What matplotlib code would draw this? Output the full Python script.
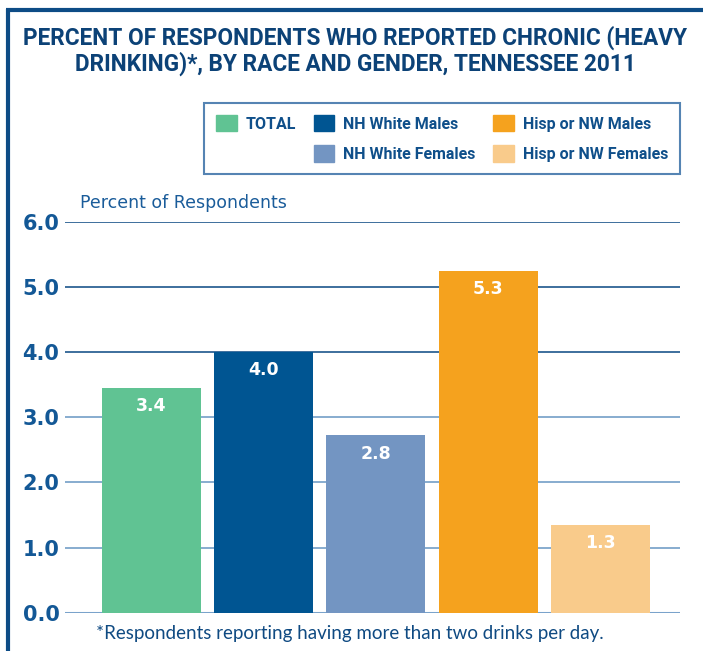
import numpy as np
import matplotlib
matplotlib.use('Agg')
import matplotlib.pyplot as plt
from matplotlib.patches import Patch
from matplotlib.lines import Line2D

# data
categorias = ['TOTAL', 'NH White Males', 'NH White Females', 'Hisp or NW Males', 'Hisp or NW Females']
valores = [3.45, 4.0, 2.72, 5.25, 1.35]
rotulos = ['3.4', '4.0', '2.8', '5.3', '1.3']
cores = ['#60c393', '#005592', '#7395c2', '#f5a21e', '#f9cb8b']
ticks_y = [0.0, 1.0, 2.0, 3.0, 4.0, 5.0, 6.0]

azul = '#0d4c86'
azul_texto = '#0f4f8a'

W, H = 703, 651
fig = plt.figure(figsize=(W / 100, H / 100), dpi=100)

# moldura (borda superior e esquerda)
fig.add_artist(Line2D([6 / W, 1], [1 - 10 / H, 1 - 10 / H], color=azul, lw=3.0,
                      transform=fig.transFigure, solid_capstyle='butt'))
fig.add_artist(Line2D([8 / W, 8 / W], [0, 1 - 8.5 / H], color=azul, lw=3.0,
                      transform=fig.transFigure, solid_capstyle='butt'))

# titulo
fonte_titulo = dict(ha='center', va='center', fontsize=16.3, fontweight='bold',
                    family=['Roboto', 'DejaVu Sans'], color='#0c4277')
fig.text(355 / W, 1 - 38 / H, 'PERCENT OF RESPONDENTS WHO REPORTED CHRONIC (HEAVY', **fonte_titulo)
fig.text(355 / W, 1 - 64 / H, 'DRINKING)*, BY RACE AND GENDER, TENNESSEE 2011', **fonte_titulo)

# eixo
x0, x1 = 65, 680
y0, y1 = 612.7, 221.7
ax = fig.add_axes([x0 / W, 1 - y0 / H, (x1 - x0) / W, (y0 - y1) / H])
ax.set_ylim(0, 6)
passo = 112.25
esq = (151.4 - x0) / passo
ax.set_xlim(-esq, -esq + (x1 - x0) / passo)

for t in ticks_y:
    if t == 0:
        ax.axhline(t, color='#7aa3cb', lw=2.2, zorder=1)
    elif t <= 3:
        ax.axhline(t, color='#7ea6cc', lw=1.3, zorder=1)
    else:
        ax.axhline(t, color='#1d568c', lw=1.2, zorder=1)

x = np.arange(len(categorias))
barras = ax.bar(x, valores, width=99 / passo, color=cores, zorder=2)

for b, r in zip(barras, rotulos):
    ax.annotate(r, (b.get_x() + b.get_width() / 2, b.get_height()),
                xytext=(0, -13), textcoords='offset points',
                ha='center', va='center', color='white',
                fontsize=12.5, fontweight='bold')

ax.set_yticks(ticks_y)
ax.set_yticklabels(['%.1f' % t for t in ticks_y])
ax.tick_params(axis='y', length=0, pad=4, labelsize=15, labelcolor='#135896')
for lbl in ax.get_yticklabels():
    lbl.set_fontweight('bold')
ax.set_xticks([])
for s in ax.spines.values():
    s.set_visible(False)
ax.patch.set_visible(False)

# rotulo do eixo y
fig.text(80 / W, 1 - 203 / H, 'Percent of Respondents', ha='left', va='center',
         fontsize=12.5, color='#1a5c9a', family='DejaVu Sans')

# legenda
alcas = [Patch(color=cores[0]), Patch(color='none'),
         Patch(color=cores[1]), Patch(color=cores[2]),
         Patch(color=cores[3]), Patch(color=cores[4])]
nomes = [categorias[0], '', categorias[1], categorias[2], categorias[3], categorias[4]]
leg = fig.legend(alcas, nomes, ncol=3, loc='upper right',
                 bbox_to_anchor=(680 / W, 1 - 103 / H),
                 frameon=True, fancybox=False, edgecolor='#2a66a0',
                 prop={'family': ['Roboto', 'DejaVu Sans'],
                       'weight': 'bold', 'size': 11.5},
                 handlelength=1.3, handleheight=1.2, handletextpad=0.55,
                 columnspacing=1.1, labelspacing=0.85, borderpad=0.75,
                 borderaxespad=0)
leg.get_frame().set_linewidth(1.5)
for t in leg.get_texts():
    t.set_color(azul_texto)

# nota de rodape
fig.text(350 / W, 1 - 633 / H,
         '*Respondents reporting having more than two drinks per day.',
         ha='center', va='center', fontsize=13.5, color='#0f4a82',
         family=['Lato', 'DejaVu Sans'])

fig.savefig('out.png', dpi=100)
